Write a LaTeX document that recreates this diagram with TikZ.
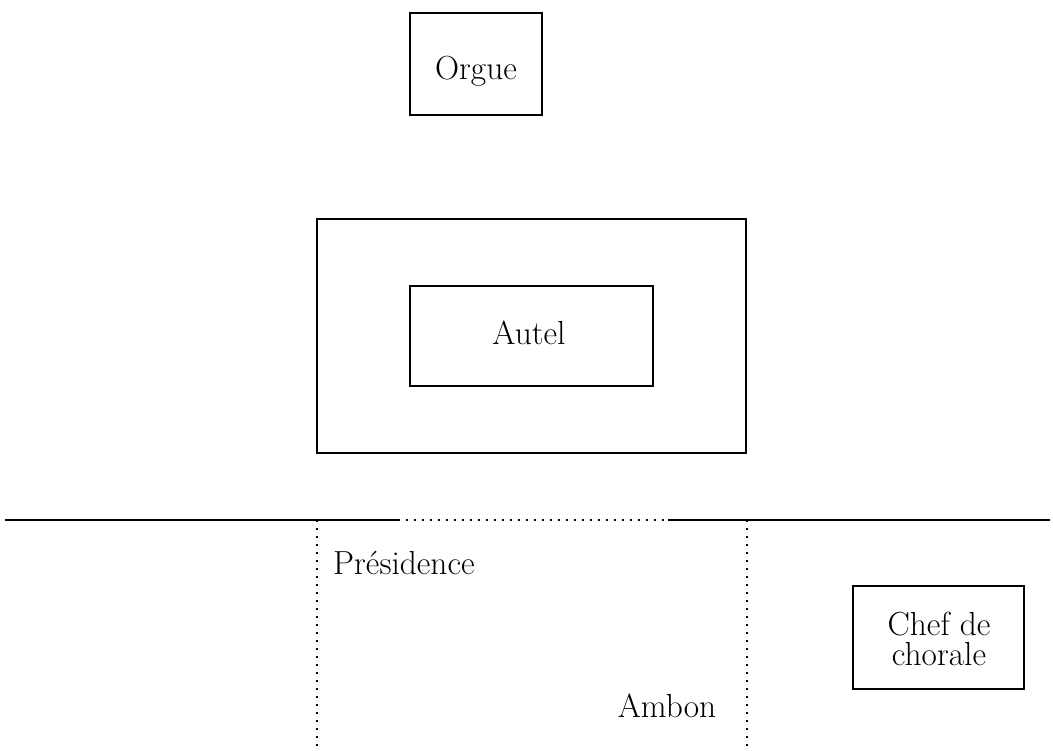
\documentclass[tikz,border=0pt]{standalone}
\usepackage{tikz}
\usetikzlibrary{positioning}

\begin{document}
\begin{tikzpicture}[x=1bp,y=-1bp,
box/.style={draw,line width=2bp,inner sep=0pt},
dots/.style={line width=2bp,dash pattern=on 2bp off 6bp},
wall/.style={line width=2.4bp},
every node/.style={font=\fontsize{33.5}{34}\selectfont}]
\useasboundingbox (0,0) rectangle (1053,751);
% boxes
\node (orgue box) [box,minimum width=132bp,minimum height=102bp] at (476,64) {};
\node (choeur) [box,minimum width=429bp,minimum height=234bp] at (531.5,336) {};
\node (autel box) [box,minimum width=243bp,minimum height=100bp] at (531.5,336) {};
\node (chef box) [box,minimum width=171bp,minimum height=103bp] at (938.5,637.5) {};
% texts
\node (orgue) [anchor=base] at (476,80) {Orgue};
\node (autel) [anchor=base] at (529,344) {Autel};
\node (presidence) [anchor=base west,inner sep=0pt] at (333,574) {Présidence};
\node (ambon) [anchor=base] at (667,717) {Ambon};
\node (chef) [align=center,inner sep=0pt,font=\fontsize{33.5}{30}\selectfont] at (939,639) {Chef de\\chorale};
% limit of the choir
\coordinate (a) at (5,520);
\coordinate (b) at (398,520);
\coordinate (c) at (668,520);
\coordinate (d) at (1050,520);
\coordinate (e) at (317,520);
\coordinate (f) at (317,751);
\coordinate (g) at (747,520);
\coordinate (h) at (747,751);
\draw [wall] (a) -- (b);
\draw [dots] (b) -- (c);
\draw [wall] (c) -- (d);
\draw [dots] (e) -- (f);
\draw [dots] (g) -- (h);
\end{tikzpicture}
\end{document}
